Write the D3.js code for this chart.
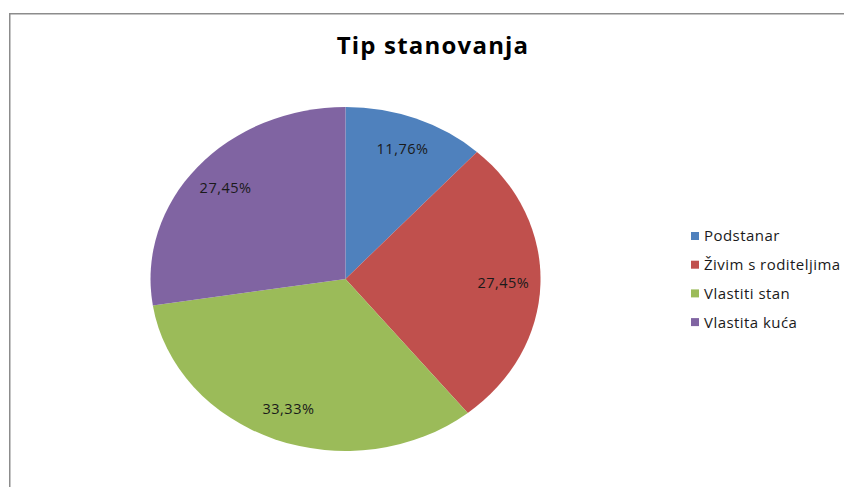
<!DOCTYPE html>
<html>
<head>
<meta charset="utf-8">
<script src="https://cdn.jsdelivr.net/npm/d3@7"></script>
<style>
  html, body { margin: 0; padding: 0; background: #fff; }
  svg { display: block; }
</style>
</head>
<body>
<svg id="chart" width="844" height="487"></svg>
<script>
const title = "Tip stanovanja";
const categories = ["Podstanar", "Živim s roditeljima", "Vlastiti stan", "Vlastita kuća"];
const values = [11.76, 27.45, 33.33, 27.45];
const labels = ["11,76%", "27,45%", "33,33%", "27,45%"];
const colors = ["#4F81BD", "#C0504D", "#9BBB59", "#8064A2"];

const svg = d3.select("#chart");
const font = "'Open Sans', 'DejaVu Sans', sans-serif";

// frame
svg.append("rect")
  .attr("x", 9.75).attr("y", 13.75)
  .attr("width", 900).attr("height", 600)
  .attr("fill", "#fff")
  .attr("stroke", "#8c8c8c").attr("stroke-width", 1.5);

// title
svg.append("text")
  .attr("x", 433).attr("y", 54)
  .attr("text-anchor", "middle")
  .attr("font-family", font)
  .attr("font-weight", "bold")
  .attr("font-size", 24)
  .attr("letter-spacing", 1.2)
  .attr("fill", "#000")
  .text(title);

const cx = 345.5, cy = 279, rx = 195, ry = 172;
const pie = d3.pie().sort(null).value(d => d)(values);
const arc = d3.arc().innerRadius(0).outerRadius(1);
const labelArc = d3.arc().innerRadius(0.81).outerRadius(0.81);

const g = svg.append("g").attr("transform", `translate(${cx},${cy})`);
g.append("g").attr("transform", `scale(${rx},${ry})`)
  .selectAll("path").data(pie).join("path")
  .attr("d", arc)
  .attr("fill", (d, i) => colors[i]);

g.selectAll("text.lbl").data(pie).join("text")
  .attr("class", "lbl")
  .attr("x", d => labelArc.centroid(d)[0] * rx)
  .attr("y", d => labelArc.centroid(d)[1] * ry)
  .attr("dy", "0.35em")
  .attr("text-anchor", "middle")
  .attr("font-family", font)
  .attr("font-size", 14.5)
  .attr("letter-spacing", 0.5)
  .attr("fill", "#1a1a1a")
  .text((d, i) => labels[i]);

// legend
const lg = svg.append("g").attr("transform", "translate(691,236)");
const items = lg.selectAll("g").data(categories).join("g")
  .attr("transform", (d, i) => `translate(0,${i * 28.7})`);
items.append("rect")
  .attr("x", 0).attr("y", -4).attr("width", 8).attr("height", 8)
  .attr("fill", (d, i) => colors[i]);
items.append("text")
  .attr("x", 13).attr("y", 0).attr("dy", "0.36em")
  .attr("font-family", font)
  .attr("font-size", 15)
  .attr("letter-spacing", 0.45)
  .attr("fill", "#1a1a1a")
  .text(d => d);
</script>
</body>
</html>
